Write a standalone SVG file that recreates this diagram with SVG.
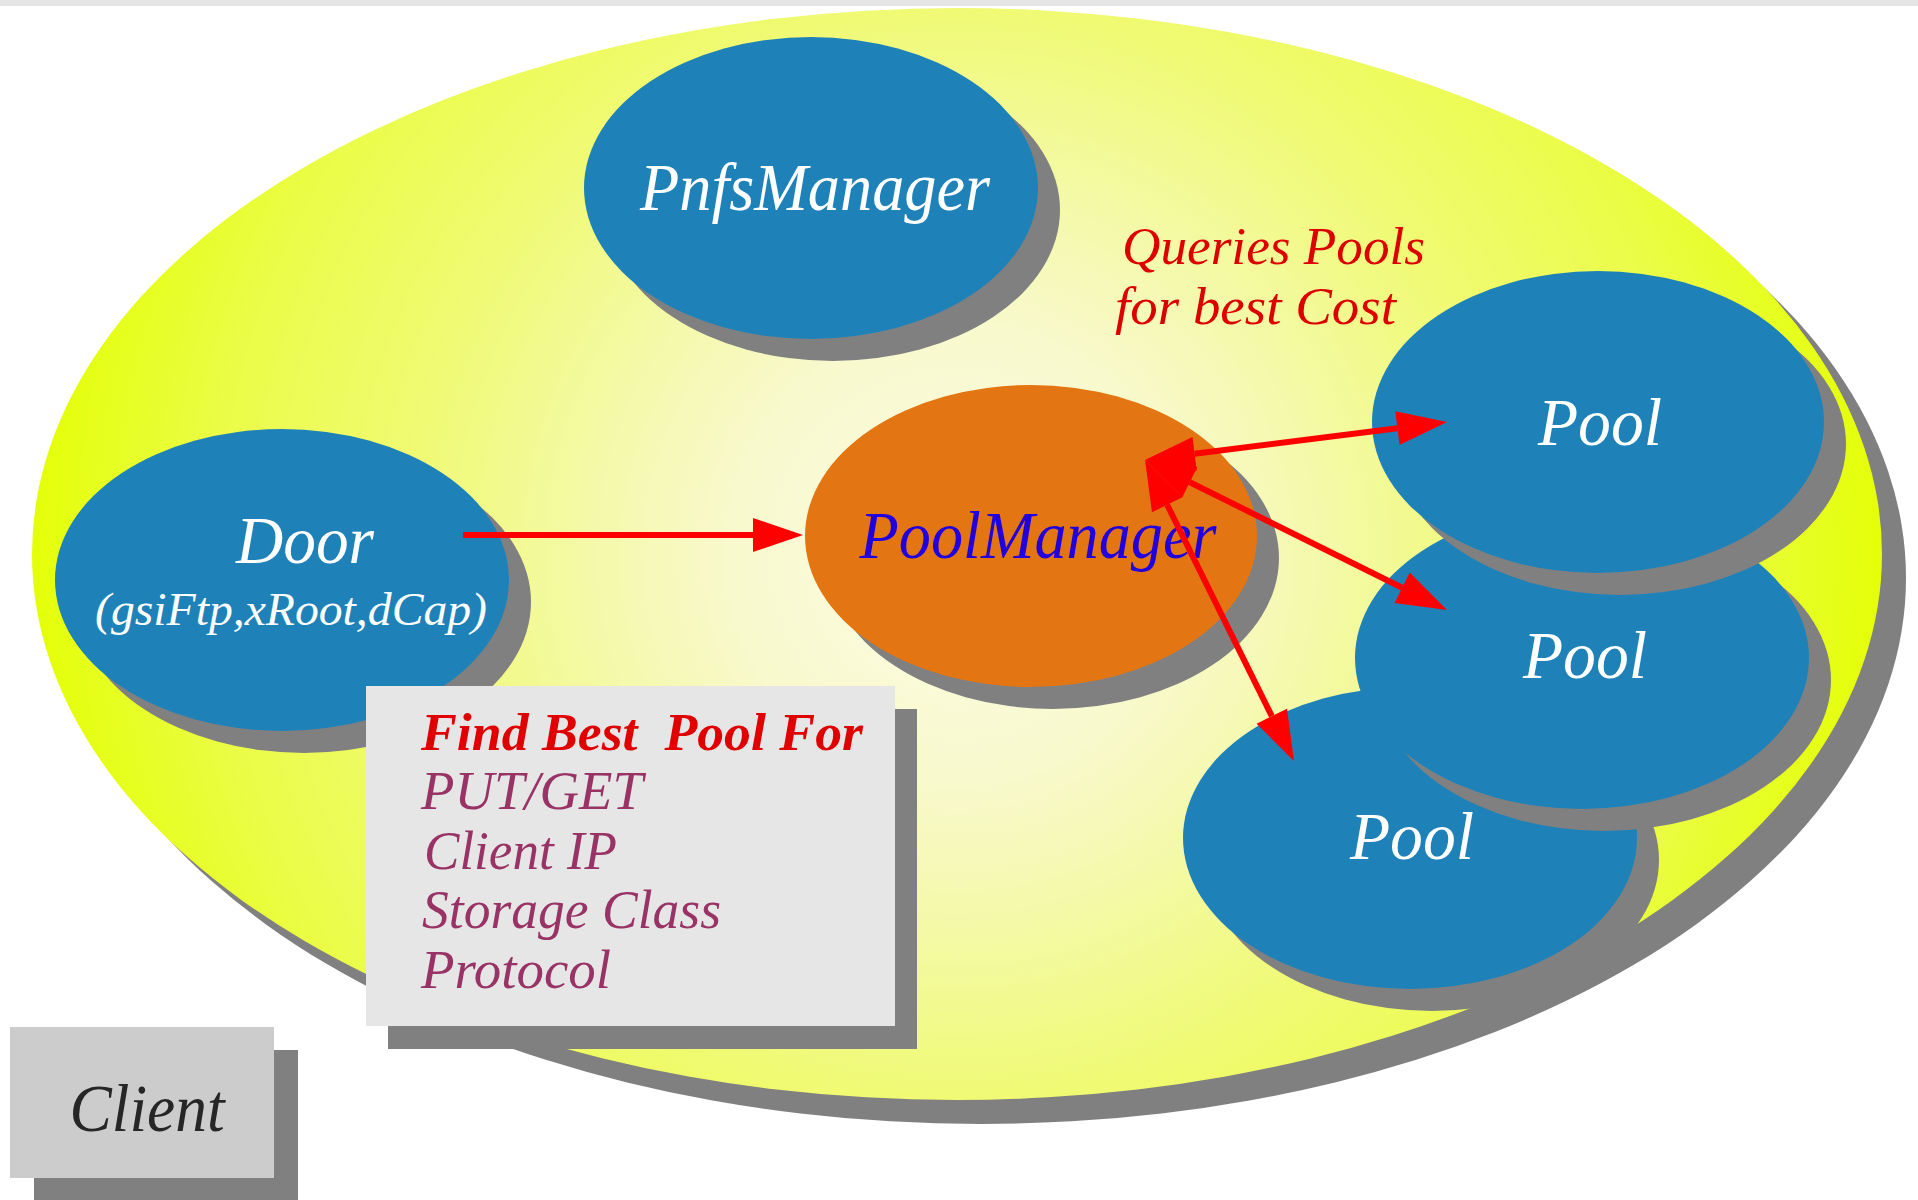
<svg xmlns="http://www.w3.org/2000/svg" width="1918" height="1200" viewBox="0 0 1918 1200">
<defs>
<radialGradient id="yel" gradientUnits="userSpaceOnUse" cx="957" cy="554" r="925">
<stop offset="0" stop-color="#fcfce6"/>
<stop offset="0.25" stop-color="#f8f9cc"/>
<stop offset="0.4" stop-color="#f4f9a8"/>
<stop offset="0.59" stop-color="#f0fa74"/>
<stop offset="0.8" stop-color="#ebfc48"/>
<stop offset="1" stop-color="#e4ff08"/>
</radialGradient>
<marker id="ah" markerUnits="userSpaceOnUse" markerWidth="50" markerHeight="34" refX="0" refY="17" orient="auto-start-reverse" overflow="visible"><path d="M0,0 L50,17 L0,34 z" fill="#ff0000"/></marker>
</defs>
<style>
.sh{fill:#808080}
.blue{fill:#1e82b9}
.t{font-family:"Liberation Serif","DejaVu Serif",serif;font-style:italic}
.w{fill:#ffffff;font-size:68px}
.bx{fill:#993366;font-size:54px}
.q{fill:#dd0000;font-size:52px}
.conn{stroke:#ff0000;stroke-width:6;fill:none}
</style>
<rect x="0" y="0" width="1918" height="1200" fill="#ffffff"/>
<rect x="0" y="0" width="1918" height="6" fill="#e5e5e5"/>
<g id="domain">
<ellipse cx="981" cy="578" rx="925" ry="546" class="sh"/>
<ellipse cx="957" cy="554" rx="925" ry="546" fill="url(#yel)"/>
</g>
<g id="pnfsmanager">
<ellipse cx="833" cy="210" rx="227" ry="151" class="sh"/>
<ellipse cx="811" cy="188" rx="227" ry="151" class="blue"/>
<text class="t w" x="815" y="210" text-anchor="middle" textLength="350" lengthAdjust="spacingAndGlyphs">PnfsManager</text>
</g>
<g id="door">
<ellipse cx="304" cy="602" rx="227" ry="151" class="sh"/>
<ellipse cx="282" cy="580" rx="227" ry="151" class="blue"/>
<text class="t w" x="305" y="563" text-anchor="middle" textLength="138" lengthAdjust="spacingAndGlyphs">Door</text>
<text class="t" x="291" y="625" fill="#ffffff" font-size="47" text-anchor="middle" textLength="392" lengthAdjust="spacingAndGlyphs">(gsiFtp,xRoot,dCap)</text>
</g>
<g id="poolmanager">
<ellipse cx="1053" cy="558" rx="226" ry="151" class="sh"/>
<ellipse cx="1031" cy="536" rx="226" ry="151" fill="#e37613"/>
<text class="t" x="1038" y="558" fill="#2200dd" font-size="68" text-anchor="middle" textLength="357" lengthAdjust="spacingAndGlyphs">PoolManager</text>
</g>
<g id="pool3">
<ellipse cx="1432" cy="860" rx="227" ry="151" class="sh"/>
<ellipse cx="1410" cy="838" rx="227" ry="151" class="blue"/>
<text class="t w" x="1412" y="859" text-anchor="middle" textLength="124" lengthAdjust="spacingAndGlyphs">Pool</text>
</g>
<g id="pool2">
<ellipse cx="1604" cy="680" rx="227" ry="151" class="sh"/>
<ellipse cx="1582" cy="658" rx="227" ry="151" class="blue"/>
<text class="t w" x="1585" y="678" text-anchor="middle" textLength="124" lengthAdjust="spacingAndGlyphs">Pool</text>
</g>
<g id="pool1">
<ellipse cx="1620" cy="444" rx="226" ry="151" class="sh"/>
<ellipse cx="1598" cy="422" rx="226" ry="151" class="blue"/>
<text class="t w" x="1600" y="445" text-anchor="middle" textLength="124" lengthAdjust="spacingAndGlyphs">Pool</text>
</g>
<g id="criteria">
<rect x="388" y="709" width="529" height="340" class="sh"/>
<rect x="366" y="686" width="529" height="340" fill="#e6e6e6"/>
<text class="t" x="421" y="750" fill="#e00000" font-size="52" font-weight="bold" style="white-space:pre" textLength="442" lengthAdjust="spacingAndGlyphs">Find Best  Pool For</text>
<text class="t bx" x="421" y="809" textLength="222" lengthAdjust="spacingAndGlyphs">PUT/GET</text>
<text class="t bx" x="424" y="869" textLength="193" lengthAdjust="spacingAndGlyphs">Client IP</text>
<text class="t bx" x="422" y="928" textLength="299" lengthAdjust="spacingAndGlyphs">Storage Class</text>
<text class="t bx" x="421" y="988" textLength="190" lengthAdjust="spacingAndGlyphs">Protocol</text>
</g>
<g id="client">
<rect x="34" y="1050" width="264" height="151" class="sh"/>
<rect x="10" y="1027" width="264" height="151" fill="#cccccc"/>
<text class="t" x="147" y="1131" fill="#262626" font-size="68" text-anchor="middle" textLength="155" lengthAdjust="spacingAndGlyphs">Client</text>
</g>
<g id="query-label">
<text class="t q" x="1122" y="264" textLength="303" lengthAdjust="spacingAndGlyphs">Queries Pools</text>
<text class="t q" x="1115" y="324" textLength="281" lengthAdjust="spacingAndGlyphs">for best Cost</text>
</g>
<g id="connectors">
<line class="conn" x1="463" y1="535" x2="753" y2="535" stroke-width="7" marker-end="url(#ah)"/>
<line class="conn" x1="1194.6" y1="453.8" x2="1397.4" y2="428.2" marker-start="url(#ah)" marker-end="url(#ah)"/>
<line class="conn" x1="1189.8" y1="482.2" x2="1402.2" y2="587.8" marker-start="url(#ah)" marker-end="url(#ah)"/>
<line class="conn" x1="1167.2" y1="504.8" x2="1271.8" y2="716.2" marker-start="url(#ah)" marker-end="url(#ah)"/>
</g>
</svg>
